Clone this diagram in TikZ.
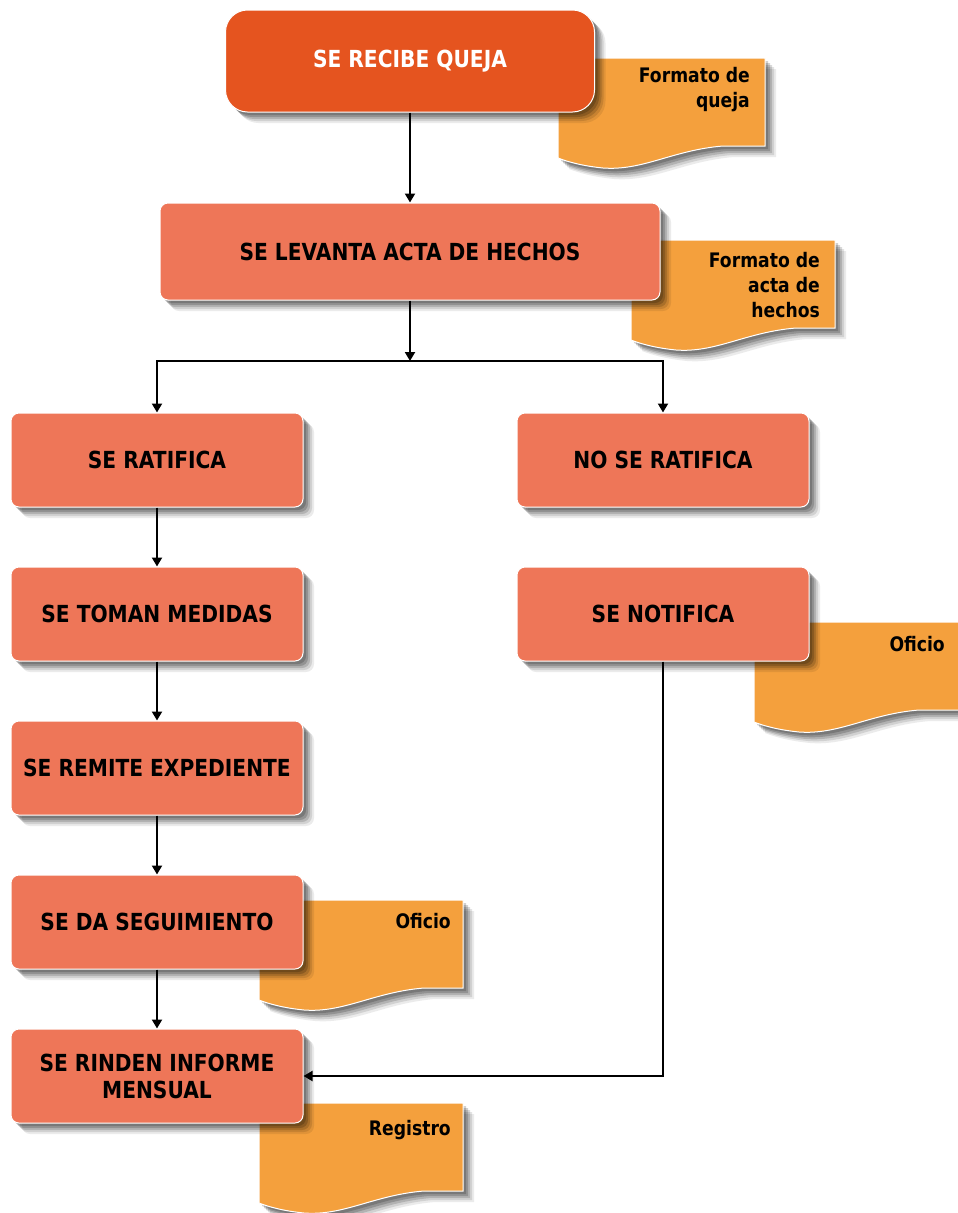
\documentclass[tikz,border=0pt]{standalone}
\usepackage{fontspec}
\setmainfont{DejaVu Sans}[FakeStretch=0.86]
\usetikzlibrary{shadows,arrows.meta}
\definecolor{topc}{HTML}{E5541F}
\definecolor{boxc}{HTML}{EE7658}
\definecolor{docc}{HTML}{F4A03D}
\tikzset{
  softshadow/.style={
    drop shadow={shadow xshift=3pt,shadow yshift=-3pt,opacity=.18,fill=black},
    drop shadow={shadow xshift=5pt,shadow yshift=-5pt,opacity=.18,fill=black},
    drop shadow={shadow xshift=7pt,shadow yshift=-7pt,opacity=.15,fill=black},
    drop shadow={shadow xshift=9pt,shadow yshift=-9pt,opacity=.11,fill=black},
    drop shadow={shadow xshift=11pt,shadow yshift=-11pt,opacity=.08,fill=black}},
  stepbox/.style={rectangle, rounded corners=8pt, fill=boxc, draw=white, line width=1pt,
    minimum width=292pt, minimum height=94pt, align=center, inner sep=2pt,
    font=\bfseries\fontsize{23.5}{27}\selectfont, text=black, softshadow},
  docshape/.style={fill=docc, draw=white, line width=1pt, softshadow},
  doctext/.style={anchor=north east, align=right, inner sep=0pt,
    font=\bfseries\fontsize{20}{25}\selectfont, text=black},
  arr/.style={line width=2pt, -{Triangle[width=10pt,length=9pt]}},
}
\newcommand{\mydoc}[3]{% left, top, right
  \path[docshape] (#1,#2) -- (#3,#2) -- (#3,{#2+88}) -- ({#1+165},{#2+88})
    .. controls ({#1+115},{#2+92}) and ({#1+85},{#2+113}) .. ({#1+45},{#2+110})
    .. controls ({#1+25},{#2+108}) and ({#1+10},{#2+104}) .. (#1,{#2+100}) -- cycle;}
\begin{document}
\begin{tikzpicture}[x=1pt,y=-1pt]
\useasboundingbox (0,0) rectangle (958,1213);
% documents
\mydoc{558}{58}{765}
\node[doctext] (d1) at (750,67) {Formato de\\queja};
\mydoc{631}{240}{835}
\node[doctext] (d2) at (820,252) {Formato de\\acta de\hspace*{6pt}\\hechos};
\mydoc{754}{622}{961}
\node[doctext] (d3) at (945,636) {Oficio};
\mydoc{259}{900}{463}
\node[doctext] (d4) at (451,913) {Oficio};
\mydoc{259}{1103}{463}
\node[doctext] (d5) at (451,1120) {Registro};
% boxes
\node[stepbox, fill=topc, text=white, rounded corners=22pt, minimum width=369pt, minimum height=102pt] (top) at (410,61) {SE RECIBE QUEJA};
\node[stepbox, minimum width=500pt, minimum height=97pt] (lev) at (410,251.5) {SE LEVANTA ACTA DE HECHOS};
\node[stepbox] (rat) at (157,460) {SE RATIFICA};
\node[stepbox] (tom) at (157,614) {SE TOMAN MEDIDAS};
\node[stepbox] (rem) at (157,768) {SE REMITE EXPEDIENTE};
\node[stepbox] (seg) at (157,922) {SE DA SEGUIMIENTO};
\node[stepbox] (rind) at (157,1076) {SE RINDEN INFORME\\MENSUAL};
\node[stepbox] (norat) at (663,460) {NO SE RATIFICA};
\node[stepbox] (notif) at (663,614) {SE NOTIFICA};
% connectors
\coordinate (split) at (410,361);
\draw[arr] (top) -- (lev);
\draw[arr] (lev) -- (split);
\draw[arr] (split) -| (rat);
\draw[arr] (split) -| (norat);
\draw[arr] (rat) -- (tom);
\draw[arr] (tom) -- (rem);
\draw[arr] (rem) -- (seg);
\draw[arr] (seg) -- (rind);
\draw[arr] (notif.south) |- (rind.east);
\end{tikzpicture}
\end{document}
